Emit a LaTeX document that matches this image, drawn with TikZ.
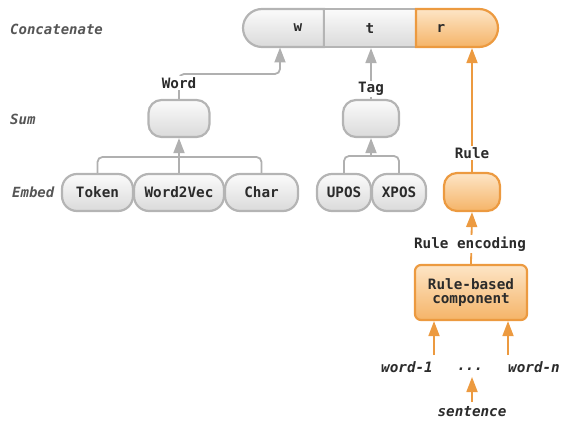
\documentclass[tikz,border=0pt]{standalone}
\usepackage{fontspec}
\usetikzlibrary{arrows.meta,shapes.misc}
\newfontfamily\monofam{DejaVu Sans Mono}

\definecolor{boxline}{HTML}{B4B4B4}
\definecolor{boxtop}{HTML}{FBFBFB}
\definecolor{boxbot}{HTML}{DADADA}
\definecolor{gline}{HTML}{B0B0B0}
\definecolor{oline}{HTML}{EC9A40}
\definecolor{otop}{HTML}{FDE5C6}
\definecolor{obot}{HTML}{F5B468}
\definecolor{txt}{HTML}{2B2B2B}
\definecolor{sidetxt}{HTML}{555555}

\tikzset{
  every node/.style={font=\monofam\bfseries\fontsize{14.3}{15.5}\selectfont, text=txt},
  gbox/.style={draw=boxline, line width=2.2pt, top color=boxtop, bottom color=boxbot,
    rounded corners=13pt, minimum height=37pt, inner sep=0pt},
  obox/.style={draw=oline, line width=2.2pt, top color=otop, bottom color=obot,
    rounded corners=13pt, minimum height=38pt, inner sep=0pt},
  sidelbl/.style={font=\monofam\bfseries\itshape\fontsize{14}{15}\selectfont, text=sidetxt, anchor=west, inner sep=0pt},
  lbl/.style={fill=white, inner sep=1.5pt},
  olbl/.style={font=\monofam\bfseries\itshape\fontsize{14.3}{15.5}\selectfont, inner sep=1pt},
  gwire/.style={draw=gline, line width=1.8pt, rounded corners=5pt},
  garrow/.style={gwire, -{Triangle[length=15pt,width=11pt]}},
  owire/.style={draw=oline, line width=1.8pt},
  oarrow/.style={owire, -{Triangle[length=15pt,width=11pt]}},
}

\begin{document}
\begin{tikzpicture}[x=1pt,y=-1pt]
\useasboundingbox (0,0) rectangle (561,430);

% side labels
\node[sidelbl] (lconcat) at (10,29) {Concatenate};
\node[sidelbl] (lsum) at (10,119) {Sum};
\node[sidelbl] (lembed) at (12,192.5) {Embed};

% concatenated vector: word | tag | rule
\node[rounded rectangle, rounded rectangle east arc=none, draw=boxline, line width=2.2pt,
  top color=boxtop, bottom color=boxbot, minimum width=81pt, minimum height=38pt, inner sep=0pt]
  (barw) at (283.5,28) {};
\node[rectangle, draw=boxline, line width=2.2pt, top color=boxtop, bottom color=boxbot,
  minimum width=92pt, minimum height=38pt, inner sep=0pt] (bart) at (370,28) {};
\node[rounded rectangle, rounded rectangle west arc=none, draw=oline, line width=2.2pt,
  top color=otop, bottom color=obot, minimum width=82pt, minimum height=38pt, inner sep=0pt]
  (barr) at (457,28) {};
\node (tw) at (298,28) {w};
\node (tt) at (370,28) {t};
\node (tr) at (441,28) {r};

% sum boxes
\node[gbox, minimum width=61pt] (sumw) at (179,118.5) {};
\node[gbox, minimum width=56pt] (sumt) at (371,118.5) {};

% embedding boxes
\node[gbox, rounded corners=15pt, minimum width=71pt] (token) at (97.5,192.5) {Token};
\node[gbox, rounded corners=15pt, minimum width=90pt] (w2v) at (179,192.5) {Word2Vec};
\node[gbox, rounded corners=15pt, minimum width=73pt] (char) at (261.5,192.5) {Char};
\node[gbox, rounded corners=15pt, minimum width=54pt] (upos) at (344,192.5) {UPOS};
\node[gbox, rounded corners=15pt, minimum width=54pt] (xpos) at (399,192.5) {XPOS};

% rule branch
\node[obox, minimum width=56pt] (rbox) at (472,192) {};
\node[obox, rounded corners=6pt, minimum width=112pt, minimum height=55pt, align=center]
  (rbc) at (471,292.5) {Rule-based\\[-2pt]component};
\node[olbl] (w1) at (407,367) {word-1};
\node[olbl] (dots) at (470,369.5) {...};
\node[olbl] (wn) at (534,367) {word-n};
\node[olbl] (sent) at (472,412) {sentence};

% junction points and free arrow ends
\coordinate (ejunc) at (180,157);
\coordinate (tjunc) at (371,156);
\coordinate (wbend) at (179,74);
\coordinate (wtip) at (280,47.5);
\coordinate (w1foot) at (434,355);
\coordinate (wnfoot) at (508,355);
\coordinate (dotsfoot) at (472,377);
\coordinate (sentfoot) at (472,402);

% embeddings to sums
\draw[gwire] (token.north) |- (ejunc) -| (char.north);
\draw[garrow] (w2v.north) -- (sumw.south);
\draw[gwire] (upos.north) |- (tjunc) -| (xpos.north);
\draw[garrow] (tjunc) -- (sumt.south);

% sums to the concatenated vector
\draw[garrow] (sumw.north) -- (wbend) -| (wtip);
\draw[garrow] (sumt.north) -- (sumt.north |- bart.south);
\node[lbl] (lword) at (179,83) {Word};
\node[lbl] (ltag) at (371,89) {Tag};

% rule branch connectors
\draw[oarrow] (rbox.north) -- (rbox.north |- barr.south);
\node[lbl] (lrule) at (472,153) {Rule};
\draw[oarrow] (rbc.north) -- (rbox.south);
\node[lbl] (lrenc) at (470,244) {Rule encoding};
\draw[oarrow] (w1foot) -- (w1foot |- rbc.south);
\draw[oarrow] (wnfoot) -- (wnfoot |- rbc.south);
\draw[oarrow] (sentfoot) -- (dotsfoot);
\end{tikzpicture}
\end{document}
